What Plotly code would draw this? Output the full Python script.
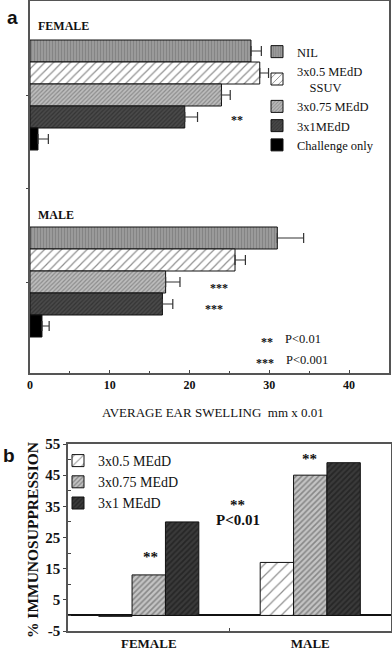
import plotly.graph_objects as go

W, H = 392, 651

# ---------------- Panel a data ----------------
groups_a = ["FEMALE", "MALE"]
series_a = ["NIL", "3x0.5 MEdD<br>    SSUV", "3x0.75 MEdD", "3x1MEdD", "Challenge only"]
female_swelling = [27.7, 28.8, 24.0, 19.4, 1.0]
female_err = [1.3, 1.1, 1.1, 1.6, 1.3]
male_swelling = [31.0, 25.7, 17.0, 16.6, 1.5]
male_err = [3.3, 1.3, 1.8, 1.3, 0.9]
x_ticks_a = [0, 10, 20, 30, 40]

# ---------------- Panel b data ----------------
categories_b = ["FEMALE", "MALE"]
series_b = ["3x0.5 MEdD", "3x0.75 MEdD", "3x1 MEdD"]
supp_05 = [-0.3, 17.0]
supp_075 = [13.0, 45.0]
supp_1 = [30.0, 49.0]
y_ticks_b = [-5, 5, 15, 25, 35, 45, 55]
y_minor_b = [0, 10, 20, 30, 40, 50]

SERIF = "Liberation Serif, Times New Roman, Tinos, serif"
SANS = "Liberation Sans, Arial, sans-serif"

def P(px, py):
    return px / W, 1 - py / H

# styles (fill patterns)
styles_a = [
    dict(bg="#9a9a9a", fg="#6e6e6e", shape="|", size=3, sol=0.35),
    dict(bg="#ffffff", fg="#222222", shape="/", size=6, sol=0.2),
    dict(bg="#bdbdbd", fg="#5a5a5a", shape="/", size=3, sol=0.4),
    dict(bg="#4a4a4a", fg="#1e1e1e", shape="/", size=3, sol=0.4),
    dict(bg="#000000", fg="#000000", shape="", size=3, sol=0.4),
]
styles_b = [
    dict(bg="#ffffff", fg="#222222", shape="/", size=8, sol=0.15),
    dict(bg="#c4c4c4", fg="#4a4a4a", shape="/", size=4, sol=0.4),
    dict(bg="#3a3a3a", fg="#111111", shape="/", size=4, sol=0.45),
]

fig = go.Figure()

# panel a geometry in px units on a reversed y axis
group_top = [40, 227]
bar_h = 22

for i, name in enumerate(series_a):
    st = styles_a[i]
    ys = [group_top[0] + bar_h * (i + 0.5), group_top[1] + bar_h * (i + 0.5)]
    xs = [female_swelling[i], male_swelling[i]]
    errs = [female_err[i], male_err[i]]
    fig.add_trace(go.Bar(
        x=xs, y=ys, orientation="h", name=name,
        width=bar_h, offset=-bar_h / 2,
        marker=dict(color=st["bg"], line=dict(color="#111", width=1),
                    pattern=dict(shape=st["shape"], fgcolor=st["fg"], bgcolor=st["bg"],
                                 size=st["size"], solidity=st["sol"])),
        error_x=dict(type="data", array=errs, arrayminus=[0, 0], symmetric=False,
                     color="#333", thickness=1.2, width=5),
        xaxis="x", yaxis="y", legend="legend", legendgroup="a%d" % i,
    ))

supp = [supp_05, supp_075, supp_1]
for i, name in enumerate(series_b):
    st = styles_b[i]
    fig.add_trace(go.Bar(
        x=categories_b, y=supp[i], name=name,
        marker=dict(color=st["bg"], line=dict(color="#111", width=1),
                    pattern=dict(shape=st["shape"], fgcolor=st["fg"], bgcolor=st["bg"],
                                 size=st["size"], solidity=st["sol"])),
        xaxis="x2", yaxis="y2", legend="legend2", legendgroup="b%d" % i,
    ))

ann = []
def add_text(txt, px, py, size=12, bold=False, xanchor="center", family=SERIF, color="#111", angle=0):
    x, y = P(px, py)
    t = "<b>%s</b>" % txt if bold else txt
    ann.append(dict(text=t, x=x, y=y, xref="paper", yref="paper", showarrow=False,
                    xanchor=xanchor, yanchor="middle", textangle=angle,
                    font=dict(family=family, size=size, color=color)))

add_text("a", 12, 18, size=19, bold=True, family=SANS)
add_text("b", 9, 455, size=19, bold=True, family=SANS)
add_text(groups_a[0], 36, 26, size=12, bold=True, xanchor="left")
add_text(groups_a[1], 36, 215, size=12, bold=True, xanchor="left")
add_text("**", 237, 120, size=12, bold=True)
add_text("***", 219, 288, size=12, bold=True)
add_text("***", 214, 309, size=12, bold=True)
add_text("**", 267, 342, size=12, bold=True)
add_text("P<0.01", 283, 339, size=12.5, xanchor="left")
add_text("***", 265, 363, size=12, bold=True)
add_text("P<0.001", 284, 360, size=12.5, xanchor="left")
add_text("AVERAGE EAR SWELLING  mm x 0.01", 213, 412, size=13)
add_text("**", 150, 557, size=15, bold=True)
add_text("**", 309, 459, size=15, bold=True)
add_text("**", 237, 505, size=15, bold=True)
add_text("P<0.01", 238, 520, size=15, bold=True)
add_text("% IMMUNOSUPPRESSION", 32, 540, size=15.5, bold=True, angle=-90)

xa0, ya0 = P(30, 373)
xa1, ya1 = P(389, 1)
xb0, yb0 = P(68, 631)
xb1, yb1 = P(391, 444)

lx, ly = P(257, 37)
lx2, ly2 = P(58, 445)

fig.update_layout(
    width=W, height=H, margin=dict(l=0, r=0, t=0, b=0, pad=0, autoexpand=False),
    paper_bgcolor="white", plot_bgcolor="white",
    barmode="group", bargap=0.38, bargroupgap=0,
    font=dict(family=SERIF, color="#111"),
    annotations=ann,
    xaxis=dict(domain=[xa0, xa1], range=[0, 45], tickvals=x_ticks_a,
               ticktext=["<b>%d</b>" % v for v in x_ticks_a],
               tickfont=dict(size=12, family=SERIF), ticks="inside", ticklen=3,
               minor=dict(dtick=5, ticks="inside", ticklen=2, tickcolor="#444"),
               showgrid=False, zeroline=False, showline=True, linecolor="#555",
               linewidth=1.5, mirror=True, anchor="y", automargin=False),
    yaxis=dict(domain=[ya0, ya1], range=[373, 1], showgrid=False, zeroline=False,
               showline=True, linecolor="#555", linewidth=1.5, mirror=True,
               tickvals=[95, 188, 282], ticks="outside", ticklen=2,
               showticklabels=False, anchor="x", automargin=False),
    xaxis2=dict(domain=[xb0, xb1], range=[-0.5, 1.5], anchor="y2",
                ticktext=["<b>FEMALE</b>", "<b>MALE</b>"], tickvals=categories_b,
                tickfont=dict(size=13, family=SERIF), ticks="inside", ticklen=3,
                tickson="boundaries", showgrid=False, showline=True, linecolor="#555",
                linewidth=1.5, mirror=True, automargin=False),
    yaxis2=dict(domain=[yb0, yb1], range=[-5, 55], anchor="x2", tickvals=y_ticks_b,
                ticktext=["<b>%d</b>" % v for v in y_ticks_b],
                tickfont=dict(size=15, family=SERIF), ticks="outside", ticklen=3,
                minor=dict(tickvals=y_minor_b, ticks="inside", ticklen=3, tickcolor="#444"),
                showgrid=False, zeroline=True, zerolinecolor="#111", zerolinewidth=1.5,
                showline=True, linecolor="#555", linewidth=1.5, mirror=True, automargin=False),
    legend=dict(x=lx, y=ly, xanchor="left", yanchor="top", bgcolor="rgba(0,0,0,0)",
                font=dict(size=12.5, family=SERIF), tracegroupgap=0, itemwidth=30),
    legend2=dict(x=lx2, y=ly2, xanchor="left", yanchor="top", bgcolor="rgba(0,0,0,0)",
                 font=dict(size=14, family=SERIF), tracegroupgap=0, itemwidth=30),
    showlegend=True,
)

fig.write_html("out.html", config={"displayModeBar": False},
               post_script="document.body.style.margin='0';document.body.style.padding='0';")
